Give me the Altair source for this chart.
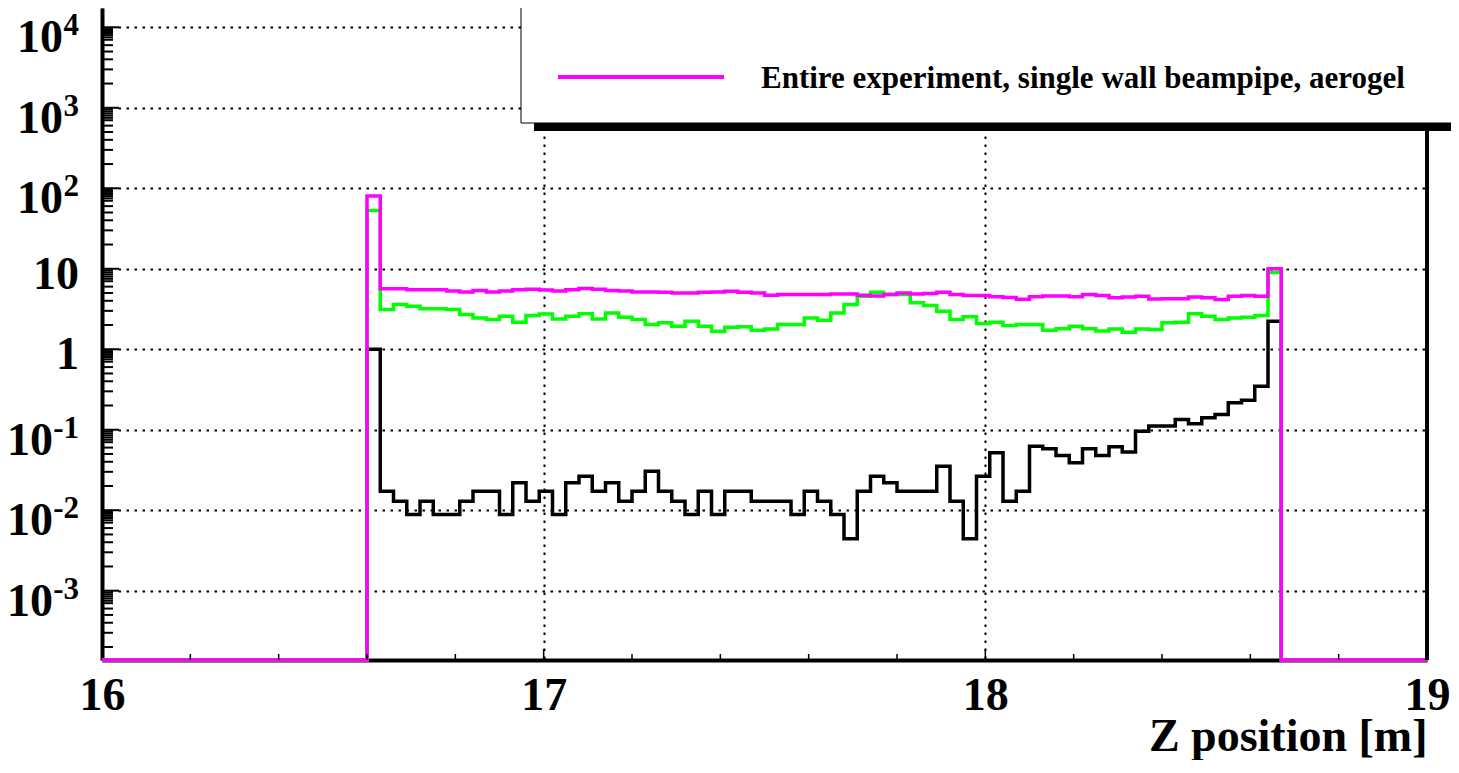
import altair as alt
import pandas as pd

# ---------------- data ----------------
X_MIN, X_MAX, N_BINS = 16.0, 19.0, 100
FIRST_BIN = 20  # first non-empty bin: [16.60, 16.63]

black_vals = [1.0,
              0.0172, 0.0129, 0.00885, 0.0129, 0.00885, 0.00885, 0.0129, 0.0172, 0.0172, 0.00885,
              0.0219, 0.0129, 0.0172, 0.00885, 0.0219, 0.0264, 0.0172, 0.0219, 0.0129, 0.0172,
              0.0305, 0.0172, 0.0129, 0.00885, 0.0172, 0.00885, 0.0172, 0.0172, 0.0129, 0.0129,
              0.0129, 0.00885, 0.0172, 0.0129, 0.00885, 0.00441, 0.0172, 0.0264, 0.0219, 0.0172,
              0.0172, 0.0172, 0.0352, 0.0129, 0.00441, 0.0264, 0.0516, 0.0129, 0.0172, 0.0624,
              0.058, 0.0478, 0.0389, 0.058, 0.0478, 0.0616, 0.0527, 0.0959, 0.111, 0.111,
              0.134, 0.119, 0.141, 0.155, 0.216, 0.233, 0.347, 2.23]

green_vals = [53.0,
              3.11, 3.59, 3.42, 3.18, 3.18, 3.11, 2.70, 2.45, 2.34, 2.57,
              2.16, 2.62, 2.75, 2.38, 2.57, 2.77, 2.38, 2.83, 2.50, 2.34,
              2.03, 2.13, 1.93, 2.23, 1.93, 1.67, 1.88, 1.90, 1.72, 1.79,
              2.03, 2.03, 2.45, 2.29, 2.83, 3.59, 4.55, 5.10, 4.80, 4.80,
              3.77, 3.49, 2.96, 2.34, 2.53, 2.09, 2.16, 1.97, 2.03, 2.03,
              1.72, 1.80, 1.93, 1.80, 1.69, 1.79, 1.63, 1.79, 1.76, 2.13,
              2.16, 2.77, 2.57, 2.34, 2.45, 2.50, 2.62, 9.0]

magenta_vals = [80.0,
                5.63, 5.63, 5.50, 5.50, 5.50, 5.31, 5.16, 5.35, 5.16, 5.31,
                5.50, 5.55, 5.45, 5.31, 5.50, 5.70, 5.55, 5.35, 5.31, 5.16,
                5.16, 5.10, 5.00, 5.00, 5.10, 5.16, 5.25, 5.10, 5.00, 4.69,
                4.78, 4.78, 4.78, 4.78, 4.85, 4.85, 4.69, 4.60, 4.80, 5.00,
                4.85, 4.92, 5.10, 4.80, 4.65, 4.65, 4.50, 4.40, 4.17, 4.50,
                4.60, 4.60, 4.50, 4.80, 4.65, 4.35, 4.45, 4.55, 4.20, 4.25,
                4.25, 4.45, 4.35, 4.15, 4.55, 4.65, 4.55, 10.0]

x_label_values = [16, 17, 18, 19]
y_label_values = [1e4, 1e3, 1e2, 10, 1, 0.1, 0.01, 0.001]
y_label_base = ["10", "10", "10", "10", "1", "10", "10", "10"]
y_label_exp = ["4", "3", "2", "", "", "-1", "-2", "-3"]
legend_labels = ["Entire experiment, single wall beampipe, aerogel"]
x_title = "Z position [m]"

# ---------------- layout constants ----------------
W, H = 1325, 652
Y_MIN = 10 ** -3.861
Y_MAX = 10 ** 4.2398
FONT = "Liberation Serif"
MAGENTA, GREEN, BLACK = "#ff00ff", "#00ff00", "#000000"
LW = 3.5


def hist_frame(vals):
    full = [0.0] * N_BINS
    for i, v in enumerate(vals):
        full[FIRST_BIN + i] = v
    w = (X_MAX - X_MIN) / N_BINS
    edges = [X_MIN + i * w for i in range(N_BINS)] + [X_MAX]
    return pd.DataFrame({"z": edges, "v": full + [full[-1]]})


xs = alt.Scale(domain=[X_MIN, X_MAX], nice=False, zero=False)
ys = alt.Scale(type="log", domain=[Y_MIN, Y_MAX], nice=False)

x_axis = alt.Axis(values=x_label_values, format="d", title=x_title,
                  labelFont=FONT, labelFontSize=46, labelFontWeight="bold", labelColor="black",
                  labelBaseline="alphabetic", labelPadding=49, labelFlush=False, labelOverlap=False,
                  ticks=False, tickSize=0,
                  domainColor="black", domainWidth=4,
                  grid=True, gridColor="black", gridDash=[2.5, 5.5], gridWidth=2, gridOpacity=1,
                  titleFont=FONT, titleFontSize=46, titleFontWeight="bold", titleColor="black",
                  titleAlign="right", titleBaseline="alphabetic", titleAngle=0,
                  titleX=W, titleY=90)
y_axis = alt.Axis(values=y_label_values, labels=False, ticks=False, title=None,
                  domainColor="black", domainWidth=4,
                  grid=True, gridColor="black", gridDash=[2.5, 5.5], gridWidth=2, gridOpacity=1)


def X(field):
    return alt.X(field, scale=xs, axis=x_axis)


def Y(field):
    return alt.Y(field, scale=ys, axis=y_axis)


def step(vals, color):
    return alt.Chart(hist_frame(vals)).transform_calculate(
        vp=f"max(datum.v, {Y_MIN})"
    ).mark_line(interpolate="step-after", color=color, strokeWidth=LW, clip=False).encode(
        x=X("z:Q"), y=Y("vp:Q"), order="z:Q",
    )


# ---------------- tick marks (ROOT style, pointing inwards) ----------------
minor_mults = [2, 3, 4, 5, 6, 7, 7.5, 8, 8.5, 9, 9.5]
y_minor = [m * 10.0 ** k for k in range(-4, 5) for m in minor_mults
           if Y_MIN < m * 10.0 ** k < Y_MAX]
x_minor = [round(16 + 0.2 * i, 2) for i in range(1, 15) if (i % 5) != 0]
x_major = [17, 18]

ymaj_df = pd.DataFrame({"val": y_label_values})
ymin_df = pd.DataFrame({"val": y_minor})
xmin_df = pd.DataFrame({"val": x_minor})
xmaj_df = pd.DataFrame({"val": x_major})

y_major_ticks = alt.Chart(ymaj_df).mark_rule(color="black", strokeWidth=2).encode(
    y=Y("val:Q"), x=alt.value(0), x2=alt.value(17))
y_minor_ticks = alt.Chart(ymin_df).mark_rule(color="black", strokeWidth=2).encode(
    y=Y("val:Q"), x=alt.value(0), x2=alt.value(11))
x_minor_ticks = alt.Chart(xmin_df).mark_rule(color="black", strokeWidth=1.5).encode(
    x=X("val:Q"), y=alt.value(H), y2=alt.value(H - 6))
x_major_ticks = alt.Chart(xmaj_df).mark_rule(color="black", strokeWidth=1.5).encode(
    x=X("val:Q"), y=alt.value(H), y2=alt.value(H - 11))

right_frame = alt.Chart(pd.DataFrame({"a": [0]})).mark_rule(color="black", strokeWidth=4).encode(
    x=alt.value(W), y=alt.value(0), y2=alt.value(H))

# ---------------- y labels (10 with superscript exponent) ----------------
ylab_df = pd.DataFrame({"val": y_label_values, "base": y_label_base, "exp": y_label_exp})
ylab = alt.Chart(ylab_df).transform_calculate(elen="length(datum.exp)")
txt = dict(font=FONT, fontWeight="bold", color="black", baseline="alphabetic", align="right")

lab_plain = ylab.transform_filter("datum.elen == 0").mark_text(fontSize=46, dy=20, **txt).encode(
    y=Y("val:Q"), x=alt.value(-23), text="base:N")
lab_base1 = ylab.transform_filter("datum.elen == 1").mark_text(fontSize=46, dy=25, **txt).encode(
    y=Y("val:Q"), x=alt.value(-39), text="base:N")
lab_base2 = ylab.transform_filter("datum.elen == 2").mark_text(fontSize=46, dy=25, **txt).encode(
    y=Y("val:Q"), x=alt.value(-49), text="base:N")
lab_exp = ylab.transform_filter("datum.elen > 0").mark_text(fontSize=31, dy=8, **txt).encode(
    y=Y("val:Q"), x=alt.value(-23), text="exp:N")

# ---------------- legend box ----------------
one = pd.DataFrame({"a": [0]})
leg_shadow = alt.Chart(one).mark_rect(color="black").encode(
    x=alt.value(432), x2=alt.value(1420), y=alt.value(-30), y2=alt.value(123))
leg_box = alt.Chart(one).mark_rect(fill="white", stroke="black", strokeWidth=1).encode(
    x=alt.value(419), x2=alt.value(1410), y=alt.value(-30), y2=alt.value(115))
leg_line = alt.Chart(one).mark_rule(color=MAGENTA, strokeWidth=4).encode(
    x=alt.value(456), x2=alt.value(622), y=alt.value(69))
leg_text = alt.Chart(pd.DataFrame({"label": legend_labels})).mark_text(
    font=FONT, fontSize=31, fontWeight="bold", color="black", align="left", baseline="alphabetic"
).encode(x=alt.value(659), y=alt.value(80), text="label:N")

chart = alt.layer(
    step(black_vals, BLACK),
    step(green_vals, GREEN),
    step(magenta_vals, MAGENTA),
    y_major_ticks, y_minor_ticks, x_minor_ticks, x_major_ticks, right_frame,
    lab_plain, lab_base1, lab_base2, lab_exp,
    leg_shadow, leg_box, leg_line, leg_text,
).properties(
    width=W, height=H,
    padding={"left": 94, "top": 0, "right": 24, "bottom": 100},
    autosize=alt.AutoSizeParams(type="none"),
    background="white",
).configure_view(stroke=None)

chart.save("out.html", embed_options={"renderer": "svg", "actions": False})
